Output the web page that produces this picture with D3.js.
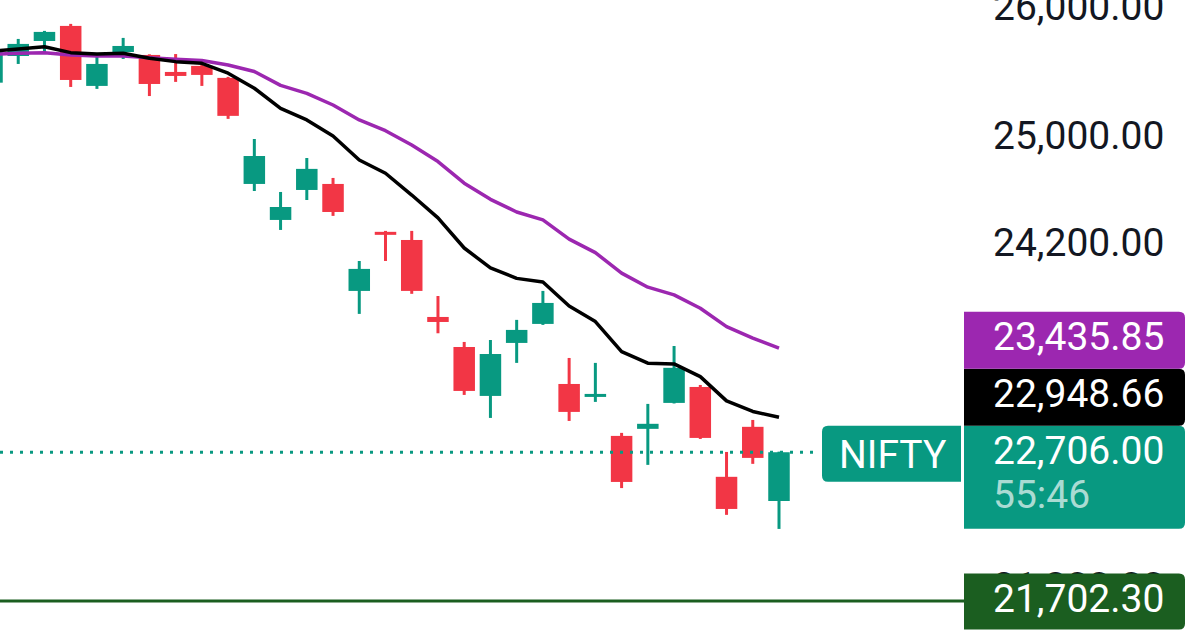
<!DOCTYPE html>
<html>
<head>
<meta charset="utf-8">
<script src="https://cdn.jsdelivr.net/npm/d3@7"></script>
<style>
  html, body { margin: 0; padding: 0; background: #ffffff; }
  svg { display: block; }
  text { font-family: Roboto, "Noto Sans", sans-serif; }
</style>
</head>
<body>
<svg id="chart" width="1200" height="636"></svg>
<script>
// ---------- data ----------
const bars  = d3.range(1, 32);
const open  = [25405,25612,25729,25847,25380,25643,25620,25488,25535,25442,24635,24367,24590,24635,23847,24279,24219,23659,23444,23098,23473,23609,23182,23091,22819,22868,23049,23161,22537,22882,22372];
const high  = [25700,25745,25808,25863,25635,25753,25625,25627,25550,25450,24974,24575,24830,24680,24065,24286,24286,23810,23480,23494,23638,23847,23366,23331,22840,23042,23451,23175,22708,22930,22710];
const low   = [25380,25550,25628,25372,25357,25589,25302,25411,25380,25127,24582,24293,24515,24397,23681,24065,23826,23542,23105,22944,23331,23602,22923,23056,22460,22619,23045,22798,22278,22626,22183];
const close = [25660,25706,25800,25426,25550,25690,25395,25457,25465,25150,24845,24463,24748,24426,24007,24257,23847,23623,23133,23394,23566,23760,22986,23112,22502,22903,23296,22805,22318,22667,22706];

const maBlack  = [25650,25666,25684,25638,25628,25633,25594,25568,25555,25478,25362,25207,25119,24997,24815,24715,24552,24382,24160,24014,23938,23912,23738,23626,23411,23329,23324,23234,23063,22989,22948.66];
const maPurple = [25624,25633,25638,25620,25612,25612,25599,25586,25576,25542,25491,25384,25323,25233,25119,25037,24928,24803,24641,24520,24426,24367,24225,24126,23976,23874,23818,23722,23590,23508,23435.85];

const tickValues = [26000, 25000, 24200, 21800];
const tickLabels = ["26,000.00", "25,000.00", "24,200.00", "21,800.00"];

const symbol = "NIFTY";
const lastPrice = 22706.00;
const lastPriceLabel = "22,706.00";
const countdown = "55:46";
const blackLast = 22948.66, blackLastLabel = "22,948.66";
const purpleLast = 23435.85, purpleLastLabel = "23,435.85";
const levelPrice = 21702.30, levelLabel = "21,702.30";

// ---------- colours ----------
const UP = "#089981", DOWN = "#F23645", PURPLE = "#9C27B0", BLACK = "#000000", LEVEL = "#1B5E20";

// ---------- scales ----------
const svg = d3.select("#chart");
const x = d3.scalePoint().domain(bars).range([-8, 779]);
const y = d3.scaleLog().domain([21702.3, 26000]).range([601, 6.5]);
const bodyW = 21.5, wickW = 3;
const FS = 39;

const data = bars.map((b, i) => ({b, o: open[i], h: high[i], l: low[i], c: close[i]}));

// ---------- axis tick labels ----------
const axisX = 993;
svg.append("g").selectAll("text").data(tickValues).join("text")
  .attr("x", axisX)
  .attr("y", d => y(d) + 13.5)
  .attr("font-size", FS)
  .attr("fill", "#131722")
  .text((d, i) => tickLabels[i]);

// ---------- level line ----------
svg.append("line")
  .attr("x1", 0).attr("x2", 966)
  .attr("y1", y(levelPrice)).attr("y2", y(levelPrice))
  .attr("stroke", LEVEL).attr("stroke-width", 3);

// ---------- candles ----------
const cg = svg.append("g");
cg.selectAll("line.wick").data(data).join("line")
  .attr("class", "wick")
  .attr("x1", d => x(d.b)).attr("x2", d => x(d.b))
  .attr("y1", d => y(d.h)).attr("y2", d => y(d.l))
  .attr("stroke", d => d.c >= d.o ? UP : DOWN)
  .attr("stroke-width", wickW);
cg.selectAll("rect.body").data(data).join("rect")
  .attr("class", "body")
  .attr("x", d => x(d.b) - bodyW / 2)
  .attr("width", bodyW)
  .attr("y", d => y(Math.max(d.o, d.c)))
  .attr("height", d => Math.max(3, y(Math.min(d.o, d.c)) - y(Math.max(d.o, d.c))))
  .attr("fill", d => d.c >= d.o ? UP : DOWN);

// ---------- moving averages ----------
const line = d3.line().x((d, i) => x(bars[i])).y(d => y(d));
svg.append("path").attr("d", line(maPurple))
  .attr("fill", "none").attr("stroke", PURPLE).attr("stroke-width", 3.5).attr("stroke-linejoin", "round");
svg.append("path").attr("d", line(maBlack))
  .attr("fill", "none").attr("stroke", BLACK).attr("stroke-width", 3.5).attr("stroke-linejoin", "round");

// ---------- last price dotted line ----------
svg.append("line")
  .attr("x1", 0).attr("x2", 816)
  .attr("y1", y(lastPrice)).attr("y2", y(lastPrice))
  .attr("stroke", UP).attr("stroke-width", 3).attr("stroke-dasharray", "3 7");

// ---------- price labels ----------
function rightRounded(x0, y0, w, h, r) {
  return `M${x0},${y0}H${x0 + w - r}Q${x0 + w},${y0} ${x0 + w},${y0 + r}V${y0 + h - r}Q${x0 + w},${y0 + h} ${x0 + w - r},${y0 + h}H${x0}Z`;
}
function leftRounded(x0, y0, w, h, r) {
  return `M${x0 + w},${y0}H${x0 + r}Q${x0},${y0} ${x0},${y0 + r}V${y0 + h - r}Q${x0},${y0 + h} ${x0 + r},${y0 + h}H${x0 + w}Z`;
}
const boxX = 964, boxW = 221, rowH = 57;

// stacked labels (bottom-up)
const labels = [
  {value: lastPrice, color: UP, lines: [lastPriceLabel, countdown], h: 103},
  {value: blackLast, color: BLACK, lines: [blackLastLabel], h: rowH},
  {value: purpleLast, color: PURPLE, lines: [purpleLastLabel], h: rowH}
];
let prevTop = Infinity;
labels.forEach(L => {
  let top = y(L.value) - 26.5;
  if (top + L.h > prevTop) top = prevTop - L.h;
  L.top = top;
  prevTop = top;
});
const lg = svg.append("g");
labels.forEach(L => {
  lg.append("path").attr("d", rightRounded(boxX, L.top, boxW, L.h, 6)).attr("fill", L.color);
  L.lines.forEach((t, j) => {
    lg.append("text")
      .attr("x", axisX).attr("y", L.top + 38.5 + j * 44)
      .attr("font-size", FS)
      .attr("fill", j === 0 ? "#ffffff" : "rgba(255,255,255,0.68)")
      .text(t);
  });
});

// symbol tag
const tagTop = labels[0].top;
lg.append("path").attr("d", leftRounded(822, tagTop, 139, 56, 6)).attr("fill", UP);
lg.append("text").attr("x", 839).attr("y", tagTop + 42)
  .attr("font-size", FS).attr("fill", "#ffffff").text(symbol);

// level label
const lvTop = y(levelPrice) - 27.5;
lg.append("path").attr("d", rightRounded(boxX, lvTop, boxW, 56, 6)).attr("fill", LEVEL);
lg.append("text").attr("x", axisX).attr("y", lvTop + 38.5)
  .attr("font-size", FS).attr("fill", "#ffffff").text(levelLabel);
</script>
</body>
</html>
